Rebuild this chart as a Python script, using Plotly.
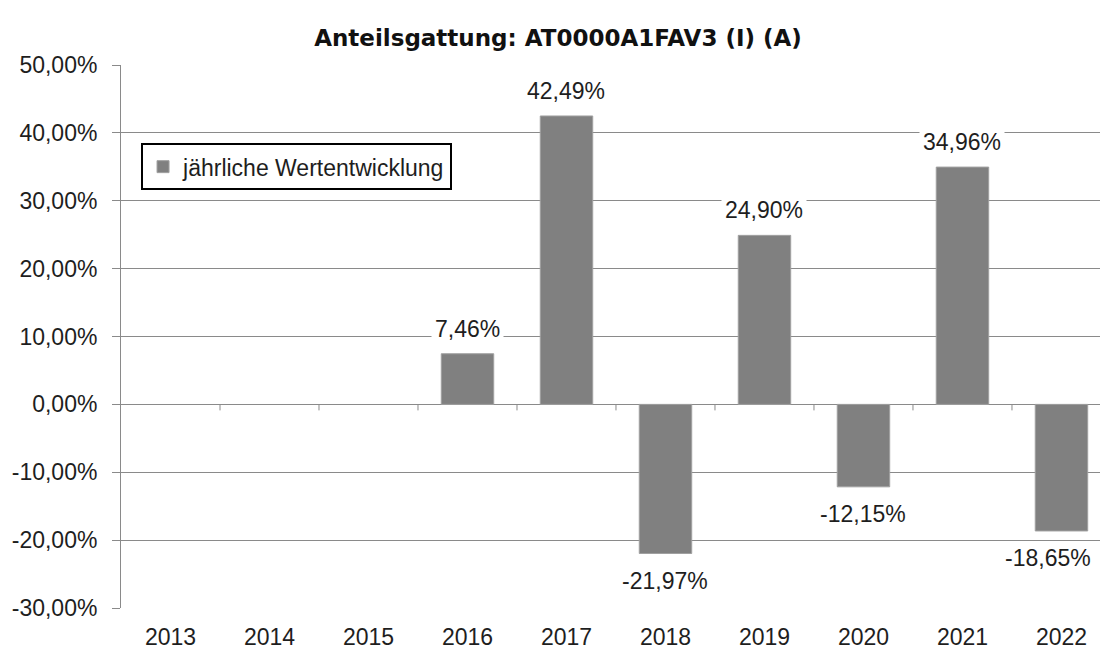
import plotly.graph_objects as go

years = ["2013", "2014", "2015", "2016", "2017", "2018", "2019", "2020", "2021", "2022"]
returns = [None, None, None, 7.46, 42.49, -21.97, 24.90, -12.15, 34.96, -18.65]
series_name = "jährliche Wertentwicklung"
title_text = "Anteilsgattung: AT0000A1FAV3 (I) (A)"
y_ticks = [-30, -20, -10, 0, 10, 20, 30, 40, 50]


def fmt(v):
    return f"{v:.2f}".replace(".", ",") + "%"


FONT = "Liberation Sans, Arial, sans-serif"
TFONT = "DejaVu Sans, Liberation Sans, Arial, sans-serif"
GRID = "#8a8a8a"
BAR = "#808080"
TXT = "#1e1e1e"

fig = go.Figure()
fig.add_trace(go.Bar(
    x=years, y=returns, name=series_name,
    marker=dict(color=BAR, line=dict(color="#a0a0a0", width=1)),
    width=0.53, showlegend=True,
))

annotations = []
last = len(years) - 1
for i, v in enumerate(returns):
    if v is None:
        continue
    annotations.append(dict(
        x=i, y=v, xref="x", yref="y", text=fmt(v), showarrow=False,
        xanchor="center", yanchor="middle",
        yshift=25 if v >= 0 else -27,
        xshift=-13 if i == last else 0,  # kept inside the chart area
        font=dict(family=FONT, size=23, color=TXT),
        bgcolor="white", borderpad=3,
    ))

shapes = []
for i in range(len(years) - 1):
    shapes.append(dict(
        type="line", xref="x", yref="y", x0=i + 0.5, x1=i + 0.5,
        ysizemode="pixel", yanchor=0, y0=0, y1=-6,
        line=dict(color=GRID, width=1), layer="below",
    ))

fig.update_layout(
    width=1100, height=642,
    margin=dict(l=113, r=0, t=57, b=42),
    paper_bgcolor="white", plot_bgcolor="white",
    title=dict(text="<b>" + title_text + "</b>", x=0.5, xanchor="center",
               y=0.953, yanchor="middle",
               font=dict(family=TFONT, size=23, color="#111111")),
    font=dict(family=FONT, size=23, color=TXT),
    xaxis=dict(
        type="category", range=[-0.5, 9.47], showgrid=False,
        showline=False, ticks="", zeroline=False,
        tickfont=dict(family=FONT, size=23, color=TXT),
        ticklabelstandoff=13,
    ),
    yaxis=dict(
        range=[-30, 50], tickvals=y_ticks,
        ticktext=[fmt(t) for t in y_ticks],
        showgrid=True, gridcolor=GRID, gridwidth=1,
        zeroline=True, zerolinecolor=GRID, zerolinewidth=1,
        showline=True, linecolor=GRID, linewidth=1,
        ticks="outside", ticklen=8, tickcolor=GRID,
        tickfont=dict(family=FONT, size=23, color=TXT),
        ticklabelstandoff=10,
    ),
    legend=dict(
        x=0.0203, y=0.856, xanchor="left", yanchor="top",
        bordercolor="black", borderwidth=2, bgcolor="white",
        font=dict(family=FONT, size=23, color=TXT),
        itemwidth=30,
    ),
    showlegend=True,
    annotations=annotations,
    shapes=shapes,
)

fig.write_html("out.html")
